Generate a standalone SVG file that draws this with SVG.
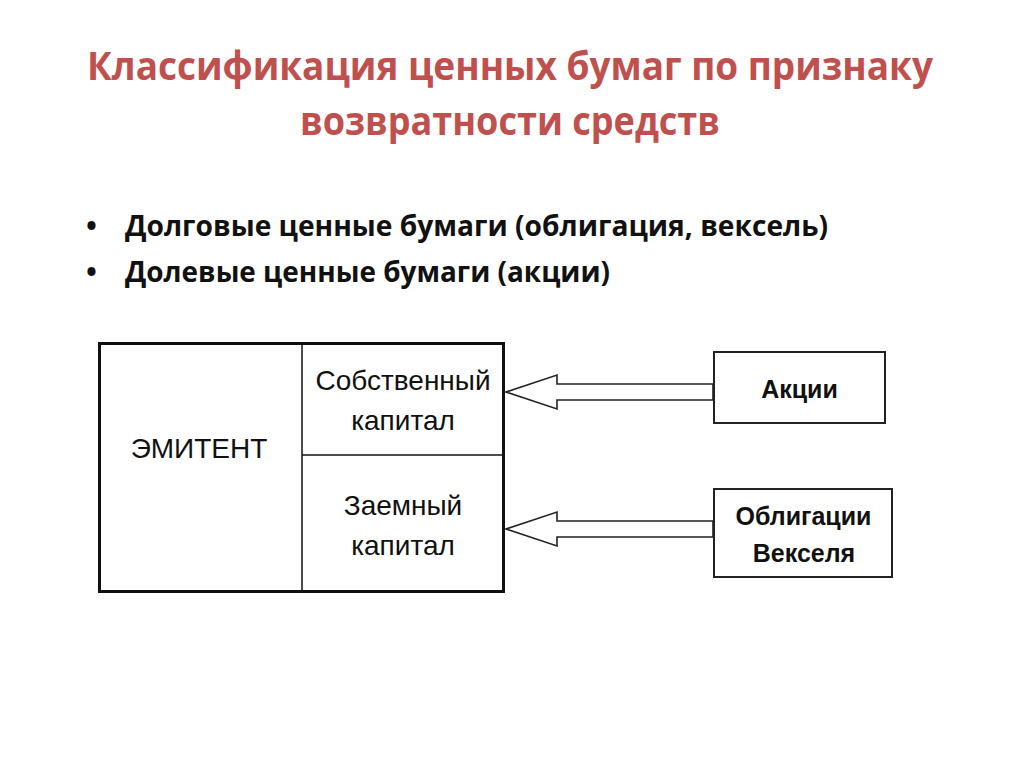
<svg xmlns="http://www.w3.org/2000/svg" width="1024" height="767" viewBox="0 0 1024 767">
<style>
.title{font-family:"Open Sans","Noto Sans",sans-serif;font-weight:bold;font-size:40px;fill:#C0504D;text-anchor:middle}
.bul{font-family:"Open Sans","Noto Sans",sans-serif;font-weight:bold;font-size:29px;fill:#111}
.reg{font-family:"Liberation Sans",Arial,sans-serif;font-size:28px;fill:#111;text-anchor:middle}
.bold{font-family:"Liberation Sans",Arial,sans-serif;font-weight:bold;font-size:25px;fill:#111;text-anchor:middle}
.box{fill:#fff;stroke:#222;stroke-width:2}
.arrow{fill:#fff;stroke:#222;stroke-width:1.6;stroke-linejoin:miter}
</style>
<rect width="1024" height="767" fill="#fff"/>
<g id="title">
<text class="title" x="510" y="80" textLength="846" lengthAdjust="spacingAndGlyphs">Классификация ценных бумаг по признаку</text>
<text class="title" x="510" y="135" textLength="420" lengthAdjust="spacingAndGlyphs">возвратности средств</text>
</g>
<g id="bullets">
<text class="bul" x="86" y="236">•</text>
<text class="bul" x="125" y="236" textLength="703" lengthAdjust="spacingAndGlyphs">Долговые ценные бумаги (облигация, вексель)</text>
<text class="bul" x="86" y="282">•</text>
<text class="bul" x="125" y="282" textLength="485" lengthAdjust="spacingAndGlyphs">Долевые ценные бумаги (акции)</text>
</g>
<g id="emitent">
<rect x="99.5" y="343.5" width="404" height="248" fill="#fff" stroke="#111" stroke-width="3"/>
<line x1="302" y1="343" x2="302" y2="591" stroke="#111" stroke-width="1.5"/>
<line x1="302" y1="455" x2="503" y2="455" stroke="#111" stroke-width="1.5"/>
<text class="reg" x="199" y="458">ЭМИТЕНТ</text>
</g>
<g id="own-capital">
<text class="reg" x="403" y="390">Собственный</text>
<text class="reg" x="403" y="430">капитал</text>
</g>
<g id="debt-capital">
<text class="reg" x="403" y="515">Заемный</text>
<text class="reg" x="403" y="555">капитал</text>
</g>
<g id="shares">
<rect class="box" x="714" y="352" width="171" height="71"/>
<text class="bold" x="799.5" y="398">Акции</text>
</g>
<g id="bonds">
<rect class="box" x="714" y="489" width="178" height="88"/>
<text class="bold" x="803.5" y="525">Облигации</text>
<text class="bold" x="804" y="562">Векселя</text>
</g>
<g id="connectors">
<polygon class="arrow" points="713,384 557,384 557,375 506,392 557,409 557,400 713,400"/>
<polygon class="arrow" points="713,521 557,521 557,512 506,529 557,546 557,537 713,537"/>
</g>
</svg>
